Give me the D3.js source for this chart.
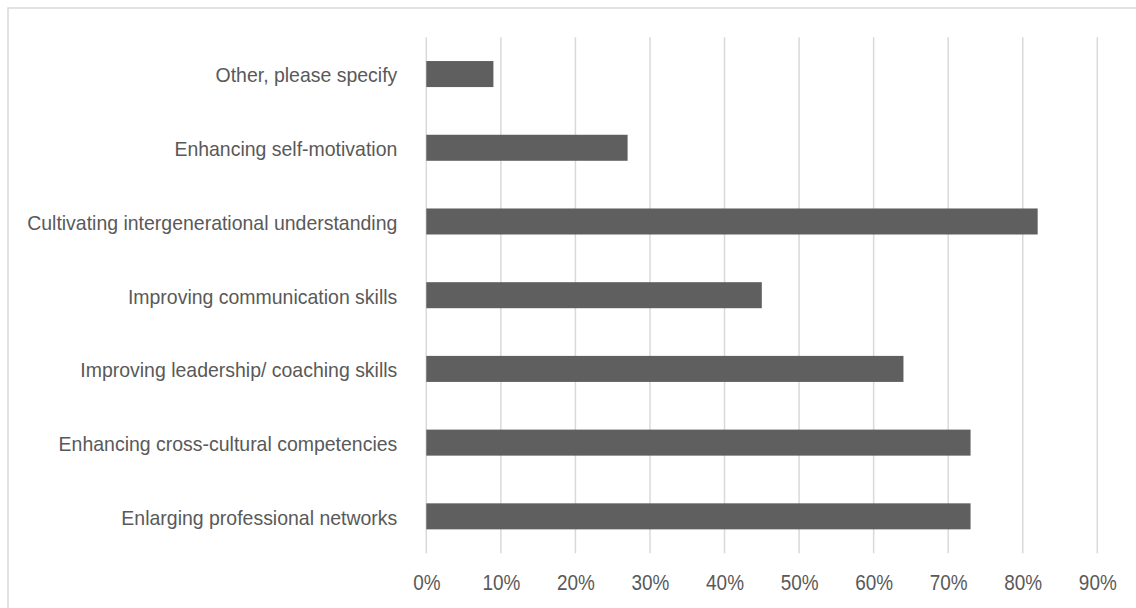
<!DOCTYPE html>
<html>
<head>
<meta charset="utf-8">
<script src="https://cdn.jsdelivr.net/npm/d3@7"></script>
<style>
  html, body { margin: 0; padding: 0; background: #fff; }
  svg { display: block; }
</style>
</head>
<body>
<svg id="chart" width="1136" height="608"></svg>
<script>
const categories = [
  "Other, please specify",
  "Enhancing self-motivation",
  "Cultivating intergenerational understanding",
  "Improving communication skills",
  "Improving leadership/ coaching skills",
  "Enhancing cross-cultural competencies",
  "Enlarging professional networks"
];
const values = [0.09, 0.27, 0.82, 0.45, 0.64, 0.73, 0.73];
const tickValues = [0, 0.1, 0.2, 0.3, 0.4, 0.5, 0.6, 0.7, 0.8, 0.9];

const W = 1136, H = 608;
const margin = { left: 426.3, right: 38.7, top: 37.2, bottom: 54.8 };
const svg = d3.select("#chart");
const font = "'Liberation Sans', Arial, sans-serif";
const textColor = "#595959";
const gridColor = "#d9d9d9";

// condense text horizontally (reference uses a narrow face)
function condense(sel, f) {
  sel.each(function () {
    const len = this.getComputedTextLength();
    d3.select(this).attr("textLength", len * f).attr("lengthAdjust", "spacingAndGlyphs");
  });
}

// outer border (top and left visible)
svg.append("rect")
  .attr("x", 8).attr("y", 8)
  .attr("width", W + 20).attr("height", H + 20)
  .attr("fill", "none").attr("stroke", gridColor).attr("stroke-width", 1.5);

const x = d3.scaleLinear().domain([0, 0.9]).range([margin.left, W - margin.right]);
const y = d3.scaleBand().domain(categories)
  .range([margin.top, H - margin.bottom])
  .paddingInner(0.647).paddingOuter(0.3235);

// gridlines
svg.append("g")
  .selectAll("line").data(tickValues).join("line")
  .attr("x1", d => x(d)).attr("x2", d => x(d))
  .attr("y1", margin.top).attr("y2", H - margin.bottom)
  .attr("stroke", gridColor).attr("stroke-width", 1.5);

// bars
svg.append("g")
  .selectAll("rect").data(values).join("rect")
  .attr("x", x(0))
  .attr("y", (d, i) => y(categories[i]))
  .attr("width", d => x(d) - x(0))
  .attr("height", y.bandwidth())
  .attr("fill", "#5f5f5f");

// x axis tick labels
const xAxis = d3.axisBottom(x).tickValues(tickValues).tickFormat(d3.format(".0%")).tickSize(0).tickPadding(0);
const gx = svg.append("g").attr("transform", `translate(0,${H - margin.bottom})`).call(xAxis);
gx.select(".domain").remove();
gx.selectAll("text")
  .attr("y", 29)
  .attr("dy", "0.35em")
  .attr("fill", textColor)
  .style("font-family", font)
  .style("font-size", "22px")
  .call(condense, 0.86);

// y axis category labels
const yAxis = d3.axisLeft(y).tickSize(0).tickPadding(29);
const gy = svg.append("g").attr("transform", `translate(${margin.left},0)`).call(yAxis);
gy.select(".domain").remove();
gy.selectAll("text")
  .attr("fill", textColor)
  .attr("dy", "0.4em")
  .style("font-family", font)
  .style("font-size", "21px")
  .call(condense, 0.927);
</script>
</body>
</html>
